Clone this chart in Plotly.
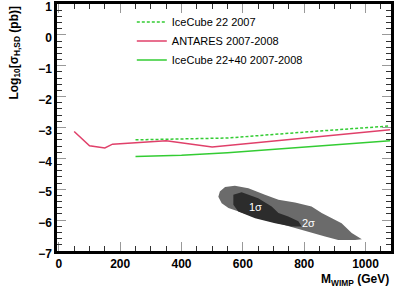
import plotly.graph_objects as go

# ---- data ----
antares_m = [50, 100, 150, 175, 350, 500, 1080]
antares_s = [-3.13, -3.59, -3.66, -3.54, -3.43, -3.63, -3.07]

ic22_m = [250, 550, 813, 1080]
ic22_s = [-3.40, -3.34, -3.14, -2.95]

ic2240_m = [250, 400, 550, 1080]
ic2240_s = [-3.94, -3.90, -3.82, -3.43]

sig2_m = [525, 542, 574, 618, 672, 716, 770, 824, 857, 890, 922, 955, 988,
          966, 911, 868, 792, 727, 650, 596, 553, 531, 520, 525]
sig2_s = [-5.07, -4.93, -4.89, -4.97, -5.18, -5.34, -5.43, -5.56, -5.77, -5.94,
          -6.10, -6.42, -6.62, -6.64, -6.64, -6.53, -6.31, -6.13, -5.94, -5.77,
          -5.61, -5.45, -5.24, -5.07]

sig1_m = [569, 596, 650, 694, 716, 748, 781, 792, 759, 705, 640, 585, 569, 569]
sig1_s = [-5.18, -5.10, -5.29, -5.56, -5.77, -5.88, -6.04, -6.21, -6.21,
          -6.10, -5.94, -5.72, -5.50, -5.18]

sigma_labels = ["1σ", "2σ"]
sigma_label_m = [640, 813]
sigma_label_s = [-5.56, -6.08]

legend_names = ["IceCube 22 2007", "ANTARES 2007-2008", "IceCube 22+40 2007-2008"]

RED = "#e0406a"
GREEN = "#33cc33"
FONT = "Liberation Sans, Arial, sans-serif"

fig = go.Figure()

fig.add_trace(go.Scatter(x=sig2_m, y=sig2_s, mode="lines", fill="toself",
                         fillcolor="#6b6b6b", line=dict(width=0, color="#6b6b6b"),
                         showlegend=False, hoverinfo="skip"))
fig.add_trace(go.Scatter(x=sig1_m, y=sig1_s, mode="lines", fill="toself",
                         fillcolor="#2c2c2c", line=dict(width=0, color="#2c2c2c"),
                         showlegend=False, hoverinfo="skip"))

fig.add_trace(go.Scatter(x=ic22_m, y=ic22_s, mode="lines", name=legend_names[0],
                         line=dict(color=GREEN, width=1.5, dash="3px,2px")))
fig.add_trace(go.Scatter(x=antares_m, y=antares_s, mode="lines", name=legend_names[1],
                         line=dict(color=RED, width=1.5)))
fig.add_trace(go.Scatter(x=ic2240_m, y=ic2240_s, mode="lines", name=legend_names[2],
                         line=dict(color=GREEN, width=1.5)))

for t, xm, ys in zip(sigma_labels, sigma_label_m, sigma_label_s):
    fig.add_annotation(x=xm, y=ys, text=t, showarrow=False,
                       font=dict(family=FONT, size=11, color="white"))

axis_common = dict(
    showline=True, linewidth=2.5, linecolor="black", mirror="ticks",
    ticks="inside", ticklen=9, tickwidth=1, tickcolor="#999999",
    showgrid=False, zeroline=False, automargin=False,
    ticklabeloverflow="allow",
    tickfont=dict(family=FONT, size=12, color="black", weight="bold"),
)

fig.update_layout(
    width=408, height=295,
    margin=dict(l=57, r=17, t=4, b=44),
    paper_bgcolor="white", plot_bgcolor="white",
    xaxis=dict(range=[-6, 1083], tickvals=[0, 200, 400, 600, 800, 1000],
               minor=dict(ticks="inside", ticklen=5, dtick=50, tick0=0,
                          tickcolor="#333333", showgrid=False),
               **axis_common),
    yaxis=dict(range=[-7, 1], tickvals=list(range(-7, 2)), ticklabelshift=3,
               minor=dict(ticks="inside", ticklen=5, dtick=0.2, tick0=0,
                          tickcolor="#333333", showgrid=False),
               **axis_common),
    legend=dict(x=0.224, y=0.986, xanchor="left", yanchor="top",
                bgcolor="rgba(0,0,0,0)", borderwidth=0,
                font=dict(family=FONT, size=11, color="black"),
                tracegroupgap=0),
    showlegend=True,
)

fig.add_annotation(xref="paper", yref="paper", x=-0.127, y=1.0,
                   xanchor="center", yanchor="top", textangle=-90,
                   text="Log<sub>10</sub>[σ<sub>H,SD</sub> (pb)]", showarrow=False,
                   font=dict(family=FONT, size=12, color="black", weight="bold"))
fig.add_annotation(xref="paper", yref="paper", x=1.0, y=-0.117,
                   xanchor="right", yanchor="middle",
                   text="M<sub>WIMP</sub> (GeV)", showarrow=False,
                   font=dict(family=FONT, size=12, color="black", weight="bold"))

fig.write_html("out.html", config={"displayModeBar": False},
               post_script="document.body.style.margin='0';")
